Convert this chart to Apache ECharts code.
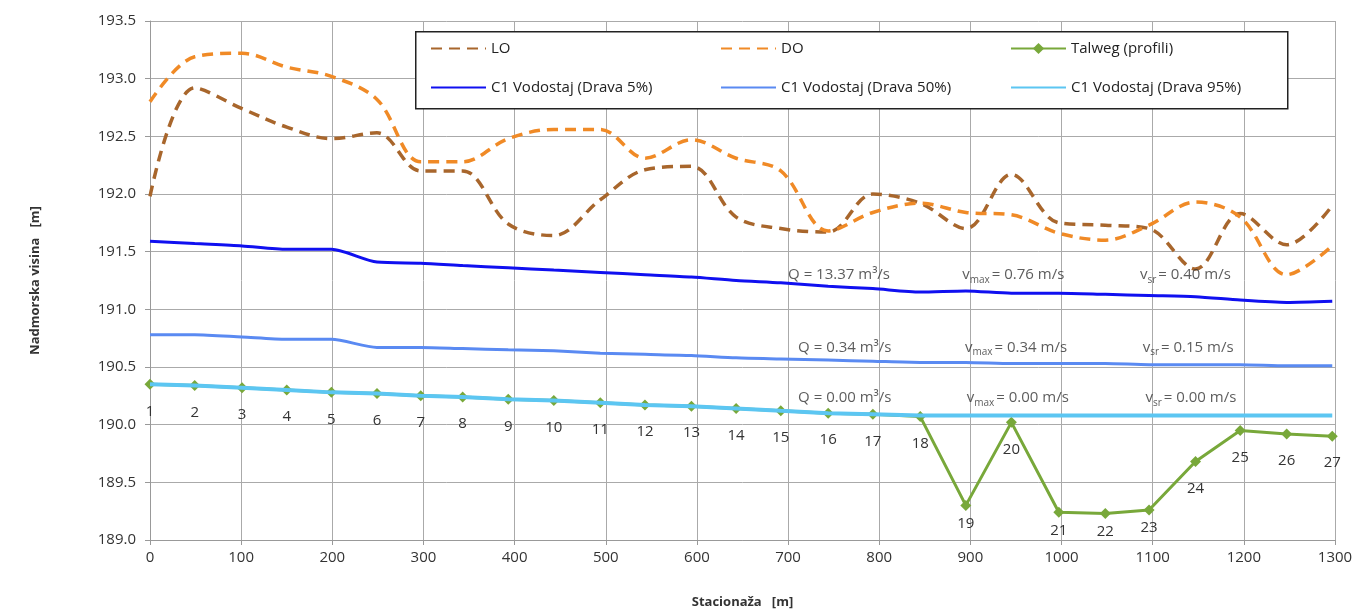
<!DOCTYPE html>
<html>
<head>
<meta charset="utf-8">
<script src="https://cdn.jsdelivr.net/npm/echarts@6/dist/echarts.min.js"></script>
<style>
html,body{margin:0;padding:0;background:#fff;}
#chart{width:1359px;height:614px;}
</style>
</head>
<body>
<div id="chart"></div>
<script>
// ---------- DATA ----------
const stations = [0, 49, 101, 150, 199, 249, 297, 343, 393, 443, 494, 543, 594, 643, 692, 744, 793, 845, 895, 945, 997, 1048, 1096, 1147, 1196, 1247, 1297];
const profileLabels = ['1','2','3','4','5','6','7','8','9','10','11','12','13','14','15','16','17','18','19','20','21','22','23','24','25','26','27'];
const LO = [191.98, 192.92, 192.74, 192.58, 192.48, 192.53, 192.20, 192.20, 191.74, 191.64, 191.95, 192.21, 192.24, 191.80, 191.70, 191.67, 192.00, 191.92, 191.70, 192.17, 191.75, 191.73, 191.70, 191.35, 191.83, 191.56, 191.90];
const DO = [192.80, 193.19, 193.22, 193.10, 193.02, 192.82, 192.28, 192.28, 192.48, 192.56, 192.56, 192.31, 192.47, 192.31, 192.20, 191.68, 191.84, 191.92, 191.84, 191.82, 191.66, 191.60, 191.73, 191.93, 191.80, 191.30, 191.55];
const talweg = [190.35, 190.34, 190.32, 190.30, 190.28, 190.27, 190.25, 190.24, 190.22, 190.21, 190.19, 190.17, 190.16, 190.14, 190.12, 190.10, 190.09, 190.07, 189.30, 190.02, 189.24, 189.23, 189.26, 189.68, 189.95, 189.92, 189.90];
const drava5 = [191.59, 191.57, 191.55, 191.52, 191.52, 191.41, 191.40, 191.38, 191.36, 191.34, 191.32, 191.30, 191.28, 191.25, 191.23, 191.20, 191.18, 191.15, 191.16, 191.14, 191.14, 191.13, 191.12, 191.11, 191.08, 191.06, 191.07];
const drava50 = [190.78, 190.78, 190.76, 190.74, 190.74, 190.67, 190.67, 190.66, 190.65, 190.64, 190.62, 190.61, 190.60, 190.58, 190.57, 190.56, 190.55, 190.54, 190.54, 190.53, 190.53, 190.53, 190.52, 190.52, 190.52, 190.51, 190.51];
const drava95 = [190.35, 190.34, 190.32, 190.30, 190.28, 190.27, 190.25, 190.24, 190.22, 190.21, 190.19, 190.17, 190.16, 190.14, 190.12, 190.10, 190.09, 190.08, 190.08, 190.08, 190.08, 190.08, 190.08, 190.08, 190.08, 190.08, 190.08];
const seriesNames = ['LO', 'DO', 'Talweg (profili)', 'C1 Vodostaj (Drava 5%)', 'C1 Vodostaj (Drava 50%)', 'C1 Vodostaj (Drava 95%)'];
// annotation texts: [Q, vmax, vsr] per scenario
const annQ = ['13.37', '0.34', '0.00'];
const annVmax = ['0.76', '0.34', '0.00'];
const annVsr = ['0.40', '0.15', '0.00'];
// annotation anchors (data coords) -- layout
const annRowY = [191.30, 190.67, 190.23];
const annColX = [[700, 891, 1086], [711, 894, 1089], [711, 896, 1092]];
// profiles whose labels sit close to the point (layout)
const closeLabelIdx = [18, 20, 21, 22];

// ---------- CHART ----------
const FONT = 'Open Sans';
const chart = echarts.init(document.getElementById('chart'), null, {renderer: 'canvas'});
const pts = arr => stations.map((x, i) => [x, arr[i]]);

const annData = [];
for (let r = 0; r < 3; r++) {
  annData.push({value: [annColX[r][0], annRowY[r]], txt: '{n|Q = ' + annQ[r] + ' m³/s}'});
  annData.push({value: [annColX[r][1], annRowY[r]], txt: '{n|v}{s|max}{n|= ' + annVmax[r] + ' m/s}'});
  annData.push({value: [annColX[r][2], annRowY[r]], txt: '{n|v}{s|sr}{n|= ' + annVsr[r] + ' m/s}'});
}

const talwegData = stations.map((x, i) => {
  const d = {value: [x, talweg[i]]};
  if (closeLabelIdx.indexOf(i) >= 0) d.label = {distance: 5};
  return d;
});

const legendText = {fontFamily: FONT, fontSize: 15, color: '#222'};
const legendCommon = {orient: 'vertical', itemWidth: 55, itemHeight: 14, itemGap: 24, textStyle: legendText, padding: 0, z: 20};
const noSym = name => ({name: name, itemStyle: {opacity: 0}});

const option = {
  backgroundColor: '#fff',
  animation: false,
  grid: {left: 150, right: 24, top: 21, bottom: 69, containLabel: false},
  xAxis: {
    type: 'value', min: 0, max: 1300, interval: 100,
    name: 'Stacionaža   [m]', nameLocation: 'middle', nameGap: 56,
    nameTextStyle: {fontFamily: FONT, fontSize: 13, fontWeight: 'bold', color: '#333'},
    axisLine: {show: true, lineStyle: {color: '#999', width: 1}},
    axisTick: {show: true, length: 5, lineStyle: {color: '#999'}},
    axisLabel: {fontFamily: FONT, fontSize: 15, color: '#333', margin: 10, formatter: v => String(v)},
    splitLine: {show: true, lineStyle: {color: '#aaa', width: 1}}
  },
  yAxis: {
    type: 'value', min: 189, max: 193.5, interval: 0.5,
    name: 'Nadmorska visina   [m]', nameLocation: 'middle', nameGap: 108, nameRotate: 90,
    nameTextStyle: {fontFamily: FONT, fontSize: 13, fontWeight: 'bold', color: '#333'},
    axisLine: {show: true, lineStyle: {color: '#999', width: 1}},
    axisTick: {show: true, length: 5, lineStyle: {color: '#999'}},
    axisLabel: {fontFamily: FONT, fontSize: 15, color: '#333', margin: 14, formatter: v => v.toFixed(1)},
    splitLine: {show: true, lineStyle: {color: '#aaa', width: 1}}
  },
  legend: [
    Object.assign({left: 430, top: 41, data: [noSym(seriesNames[0]), noSym(seriesNames[3])]}, legendCommon),
    Object.assign({left: 720, top: 41, data: [noSym(seriesNames[1]), noSym(seriesNames[4])]}, legendCommon),
    Object.assign({left: 1010, top: 41, data: [{name: seriesNames[2]}, noSym(seriesNames[5])]}, legendCommon)
  ],
  graphic: [{
    type: 'rect', left: 415, top: 31, z: 1, zlevel: 0,
    shape: {width: 872, height: 77},
    style: {fill: '#fff', stroke: '#222', lineWidth: 1.5}
  }],
  series: [
    {
      name: seriesNames[0], type: 'line', data: pts(LO), smooth: 0.35, showSymbol: false, symbol: 'none',
      lineStyle: {color: '#a8662c', width: 3.5, type: [11, 7]}, itemStyle: {color: '#a8662c'}, z: 3
    },
    {
      name: seriesNames[1], type: 'line', data: pts(DO), smooth: 0.35, showSymbol: false, symbol: 'none',
      lineStyle: {color: '#f08a26', width: 3.5, type: [11, 7]}, itemStyle: {color: '#f08a26'}, z: 3
    },
    {
      name: seriesNames[3], type: 'line', data: pts(drava5), smooth: 0.25, symbol: 'none',
      lineStyle: {color: '#1010f0', width: 3}, itemStyle: {color: '#1010f0'}, z: 3
    },
    {
      name: seriesNames[4], type: 'line', data: pts(drava50), smooth: 0.25, symbol: 'none',
      lineStyle: {color: '#5a8af2', width: 3}, itemStyle: {color: '#5a8af2'}, z: 3
    },
    {
      name: seriesNames[2], type: 'line', data: talwegData, smooth: false, symbol: 'diamond', symbolSize: 11,
      lineStyle: {color: '#78a83a', width: 3}, itemStyle: {color: '#78a83a'}, z: 4,
      label: {
        show: true, position: 'bottom', distance: 14, fontFamily: FONT, fontSize: 15, color: '#333',
        formatter: p => profileLabels[p.dataIndex]
      }
    },
    {
      name: seriesNames[5], type: 'line', data: pts(drava95), smooth: false, symbol: 'none',
      lineStyle: {color: '#5cc6f2', width: 4}, itemStyle: {color: '#5cc6f2'}, z: 5
    },
    {
      name: 'ann', type: 'scatter', symbolSize: 0, silent: true, z: 6,
      data: annData,
      label: {
        show: true, position: 'right', distance: 0,
        formatter: p => p.data.txt,
        rich: {
          n: {fontFamily: FONT, fontSize: 15, color: '#333'},
          s: {fontFamily: FONT, fontSize: 10, color: '#333', padding: [10, 2, 0, 0]}
        }
      }
    }
  ]
};
chart.setOption(option);
</script>
</body>
</html>
